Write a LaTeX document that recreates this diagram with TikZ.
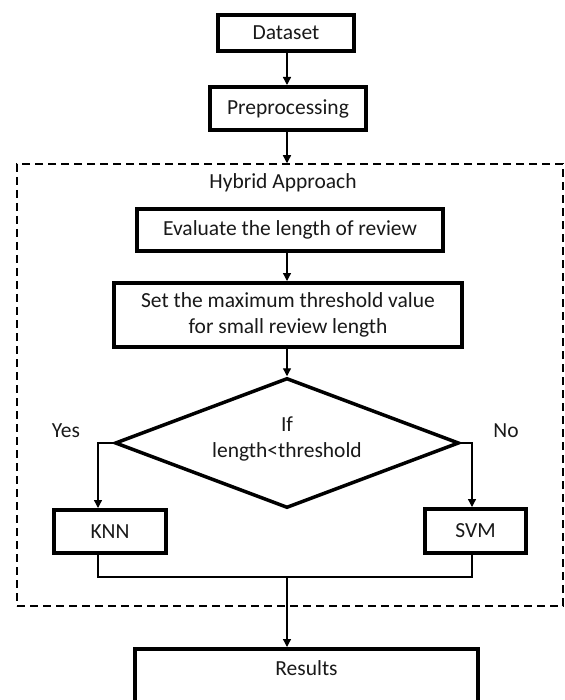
\documentclass[tikz,border=0pt]{standalone}
\usepackage{fontspec}
\setmainfont{Carlito}
\usetikzlibrary{shapes.geometric,arrows.meta,calc}
\begin{document}
\begin{tikzpicture}[x=1pt,y=-1pt,
  txt/.style={font=\fontsize{21.5}{25.5}\selectfont, text=black!90},
  box/.style={draw, line width=4pt, inner sep=0pt, align=center, txt},
  thinline/.style={line width=1.3pt},
  arr/.style={thinline,-{Triangle[length=8pt,width=8pt]}},
  lbl/.style={txt, inner sep=0pt, align=center},
  frame/.style={draw, line width=1.5pt, dash pattern=on 8pt off 5pt, inner sep=0pt}]
\clip (0,0) rectangle (564,700);
\fill[white] (0,0) rectangle (564,700);
% boxes
\node[box, minimum width=136, minimum height=36] (ds) at (286,33) {Dataset};
\node[box, minimum width=156, minimum height=43] (pre) at (288,108.5) {Preprocessing};
\node[frame, minimum width=546, minimum height=442] (fr) at (290,385) {};
\node[lbl] (hyb) at (283,183) {Hybrid Approach};
\node[box, minimum width=306, minimum height=42] (ev) at (290,230) {Evaluate the length of review};
\node[box, minimum width=348, minimum height=64] (set) at (288,315) {Set the maximum threshold value\\for small review length};
\node[draw, diamond, line width=3.5pt, minimum width=344, minimum height=130, inner sep=0pt] (dia) at (287,443) {};
\node[lbl] (cond) at (287,439) {If\\length<threshold};
\node[lbl] (yes) at (66,431) {Yes};
\node[lbl] (no) at (506,431) {No};
\node[box, minimum width=112, minimum height=43] (knn) at (110,531.5) {KNN};
\node[box, minimum width=101, minimum height=44] (svm) at (475.5,531) {SVM};
\node[box, minimum width=343, text height=26pt, text depth=44pt, anchor=north] (res) at (306.5,647) {Results};
% connector coordinates
\coordinate (ax) at (287,0);
\coordinate (lx) at (98,443);
\coordinate (rx) at (472,443);
\coordinate (jn) at (287,577);
% connectors
\draw[arr] (ds.south -| ax) -- (pre.north -| ax);
\draw[arr] (pre.south -| ax) -- (fr.north -| ax);
\draw[arr] (ev.south -| ax) -- (set.north -| ax);
\draw[arr] (set.south -| ax) -- (dia.north);
\draw[arr] (dia.west) -- (lx) -- (lx |- knn.north);
\draw[arr] (dia.east) -- (rx) -- (rx |- svm.north);
\draw[thinline] (knn.south -| lx) -- (lx |- jn) -- (rx |- jn) -- (svm.south -| rx);
\draw[arr] (jn) -- (jn |- res.north);
\end{tikzpicture}
\end{document}
